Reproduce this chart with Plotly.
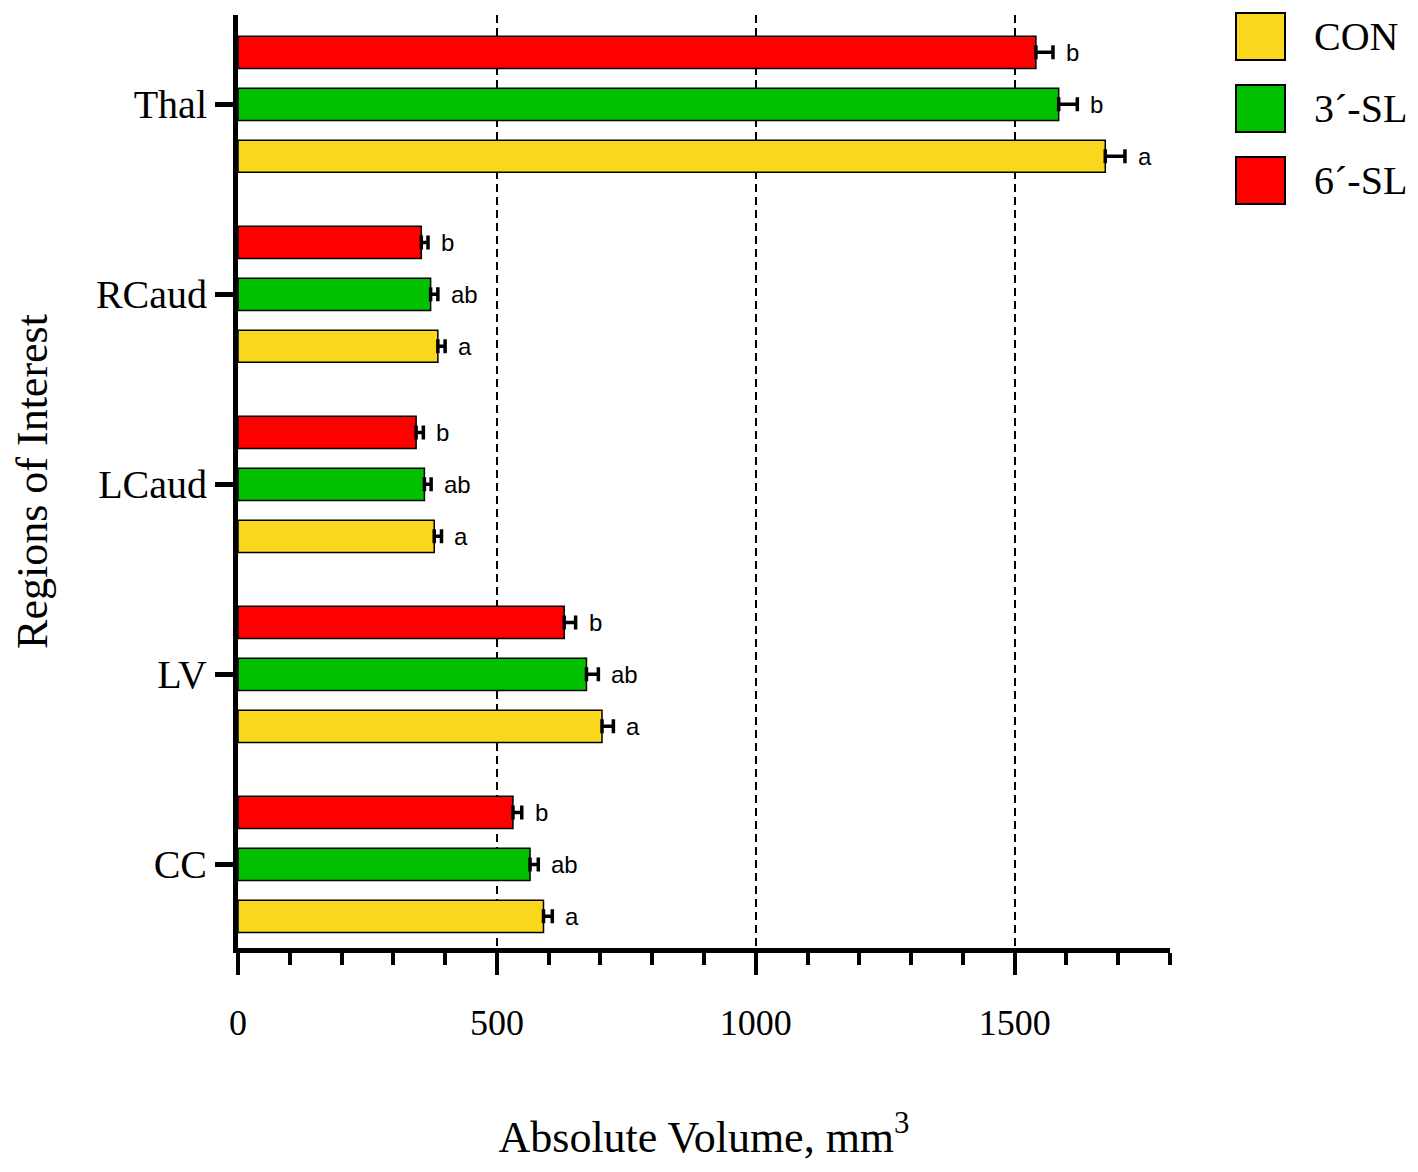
import plotly.graph_objects as go

regions = ["CC", "LV", "LCaud", "RCaud", "Thal"]
groups = ["CON", "3´-SL", "6´-SL"]
colors = ["#F9D71C", "#00C000", "#FF0000"]

con_mean = [590, 703, 379, 386, 1675]
con_err = [17, 22, 14, 14, 38]
con_lab = ["a", "a", "a", "a", "a"]

sl3_mean = [564, 673, 360, 372, 1585]
sl3_err = [16, 23, 13, 14, 36]
sl3_lab = ["ab", "ab", "ab", "ab", "b"]

sl6_mean = [531, 630, 344, 354, 1541]
sl6_err = [17, 22, 14, 13, 33]
sl6_lab = ["b", "b", "b", "b", "b"]

means = [con_mean, sl3_mean, sl6_mean]
errs = [con_err, sl3_err, sl6_err]
labs = [con_lab, sl3_lab, sl6_lab]

serif = "Liberation Serif"

fig = go.Figure()
for name, col, m, e in zip(groups, colors, means, errs):
    fig.add_trace(go.Bar(
        y=regions, x=m, name=name, orientation="h",
        marker=dict(color=col, line=dict(color="black", width=1.5)),
        error_x=dict(type="data", array=e, arrayminus=[0] * len(e), symmetric=False,
                     color="black", thickness=3.5, width=7),
        showlegend=False,
    ))

# significance letters next to the error bars
shifts = [-52, 0, 52]
anns = []
for m, e, lab, sh in zip(means, errs, labs, shifts):
    for r, v, er, t in zip(regions, m, e, lab):
        anns.append(dict(x=v + er, y=r, text=t, showarrow=False, xanchor="left",
                         xshift=11, yshift=sh,
                         font=dict(family="Liberation Sans", size=24, color="black")))

# legend drawn by hand so the boxes can be large
shapes = []
for i, (name, col) in enumerate(zip(groups, colors)):
    shapes.append(dict(type="rect", xref="paper", yref="paper",
                       x0=(1236 - 238) / 932, x1=(1285 - 238) / 932,
                       y0=(948 - (13 + i * 72 + 47)) / 933, y1=(948 - (13 + i * 72)) / 933,
                       fillcolor=col, line=dict(color="black", width=2)))
    anns.append(dict(x=(1312 - 238) / 932, y=(948 - (37 + i * 72)) / 933,
                     xref="paper", yref="paper", text=name, showarrow=False,
                     xanchor="left", yanchor="middle",
                     font=dict(family=serif, size=40, color="black")))

fig.update_layout(
    barmode="group",
    bargap=0.18,
    bargroupgap=0.38,
    width=1418, height=1172,
    margin=dict(l=230, r=256, t=7, b=232),
    plot_bgcolor="white",
    paper_bgcolor="white",
    annotations=anns,
    shapes=shapes,
)
fig.update_xaxes(
    range=[0, 1800],
    tickvals=[0, 500, 1000, 1500],
    ticks="outside", ticklen=22, tickwidth=4, tickcolor="black",
    minor=dict(dtick=100, ticks="outside", ticklen=12, tickwidth=4, tickcolor="black", showgrid=False),
    showgrid=True, gridcolor="black", griddash="8px,5px", gridwidth=1.5,
    zeroline=False,
    showline=True, linecolor="black", linewidth=5,
    ticklabelstandoff=17,
    tickfont=dict(family=serif, size=36, color="black"),
    title=dict(text="Absolute Volume, mm<sup>3</sup>", font=dict(family=serif, size=44, color="black"),
               standoff=80),
)
fig.update_yaxes(
    range=[-0.44, 4.47],
    ticks="outside", ticklen=18, tickwidth=5, tickcolor="black",
    showgrid=False, zeroline=False,
    showline=True, linecolor="black", linewidth=5,
    ticklabelstandoff=0,
    tickfont=dict(family=serif, size=40, color="black"),
    title=dict(text="Regions of Interest", font=dict(family=serif, size=44, color="black"),
               standoff=42),
)

fig.write_html("out.html")
